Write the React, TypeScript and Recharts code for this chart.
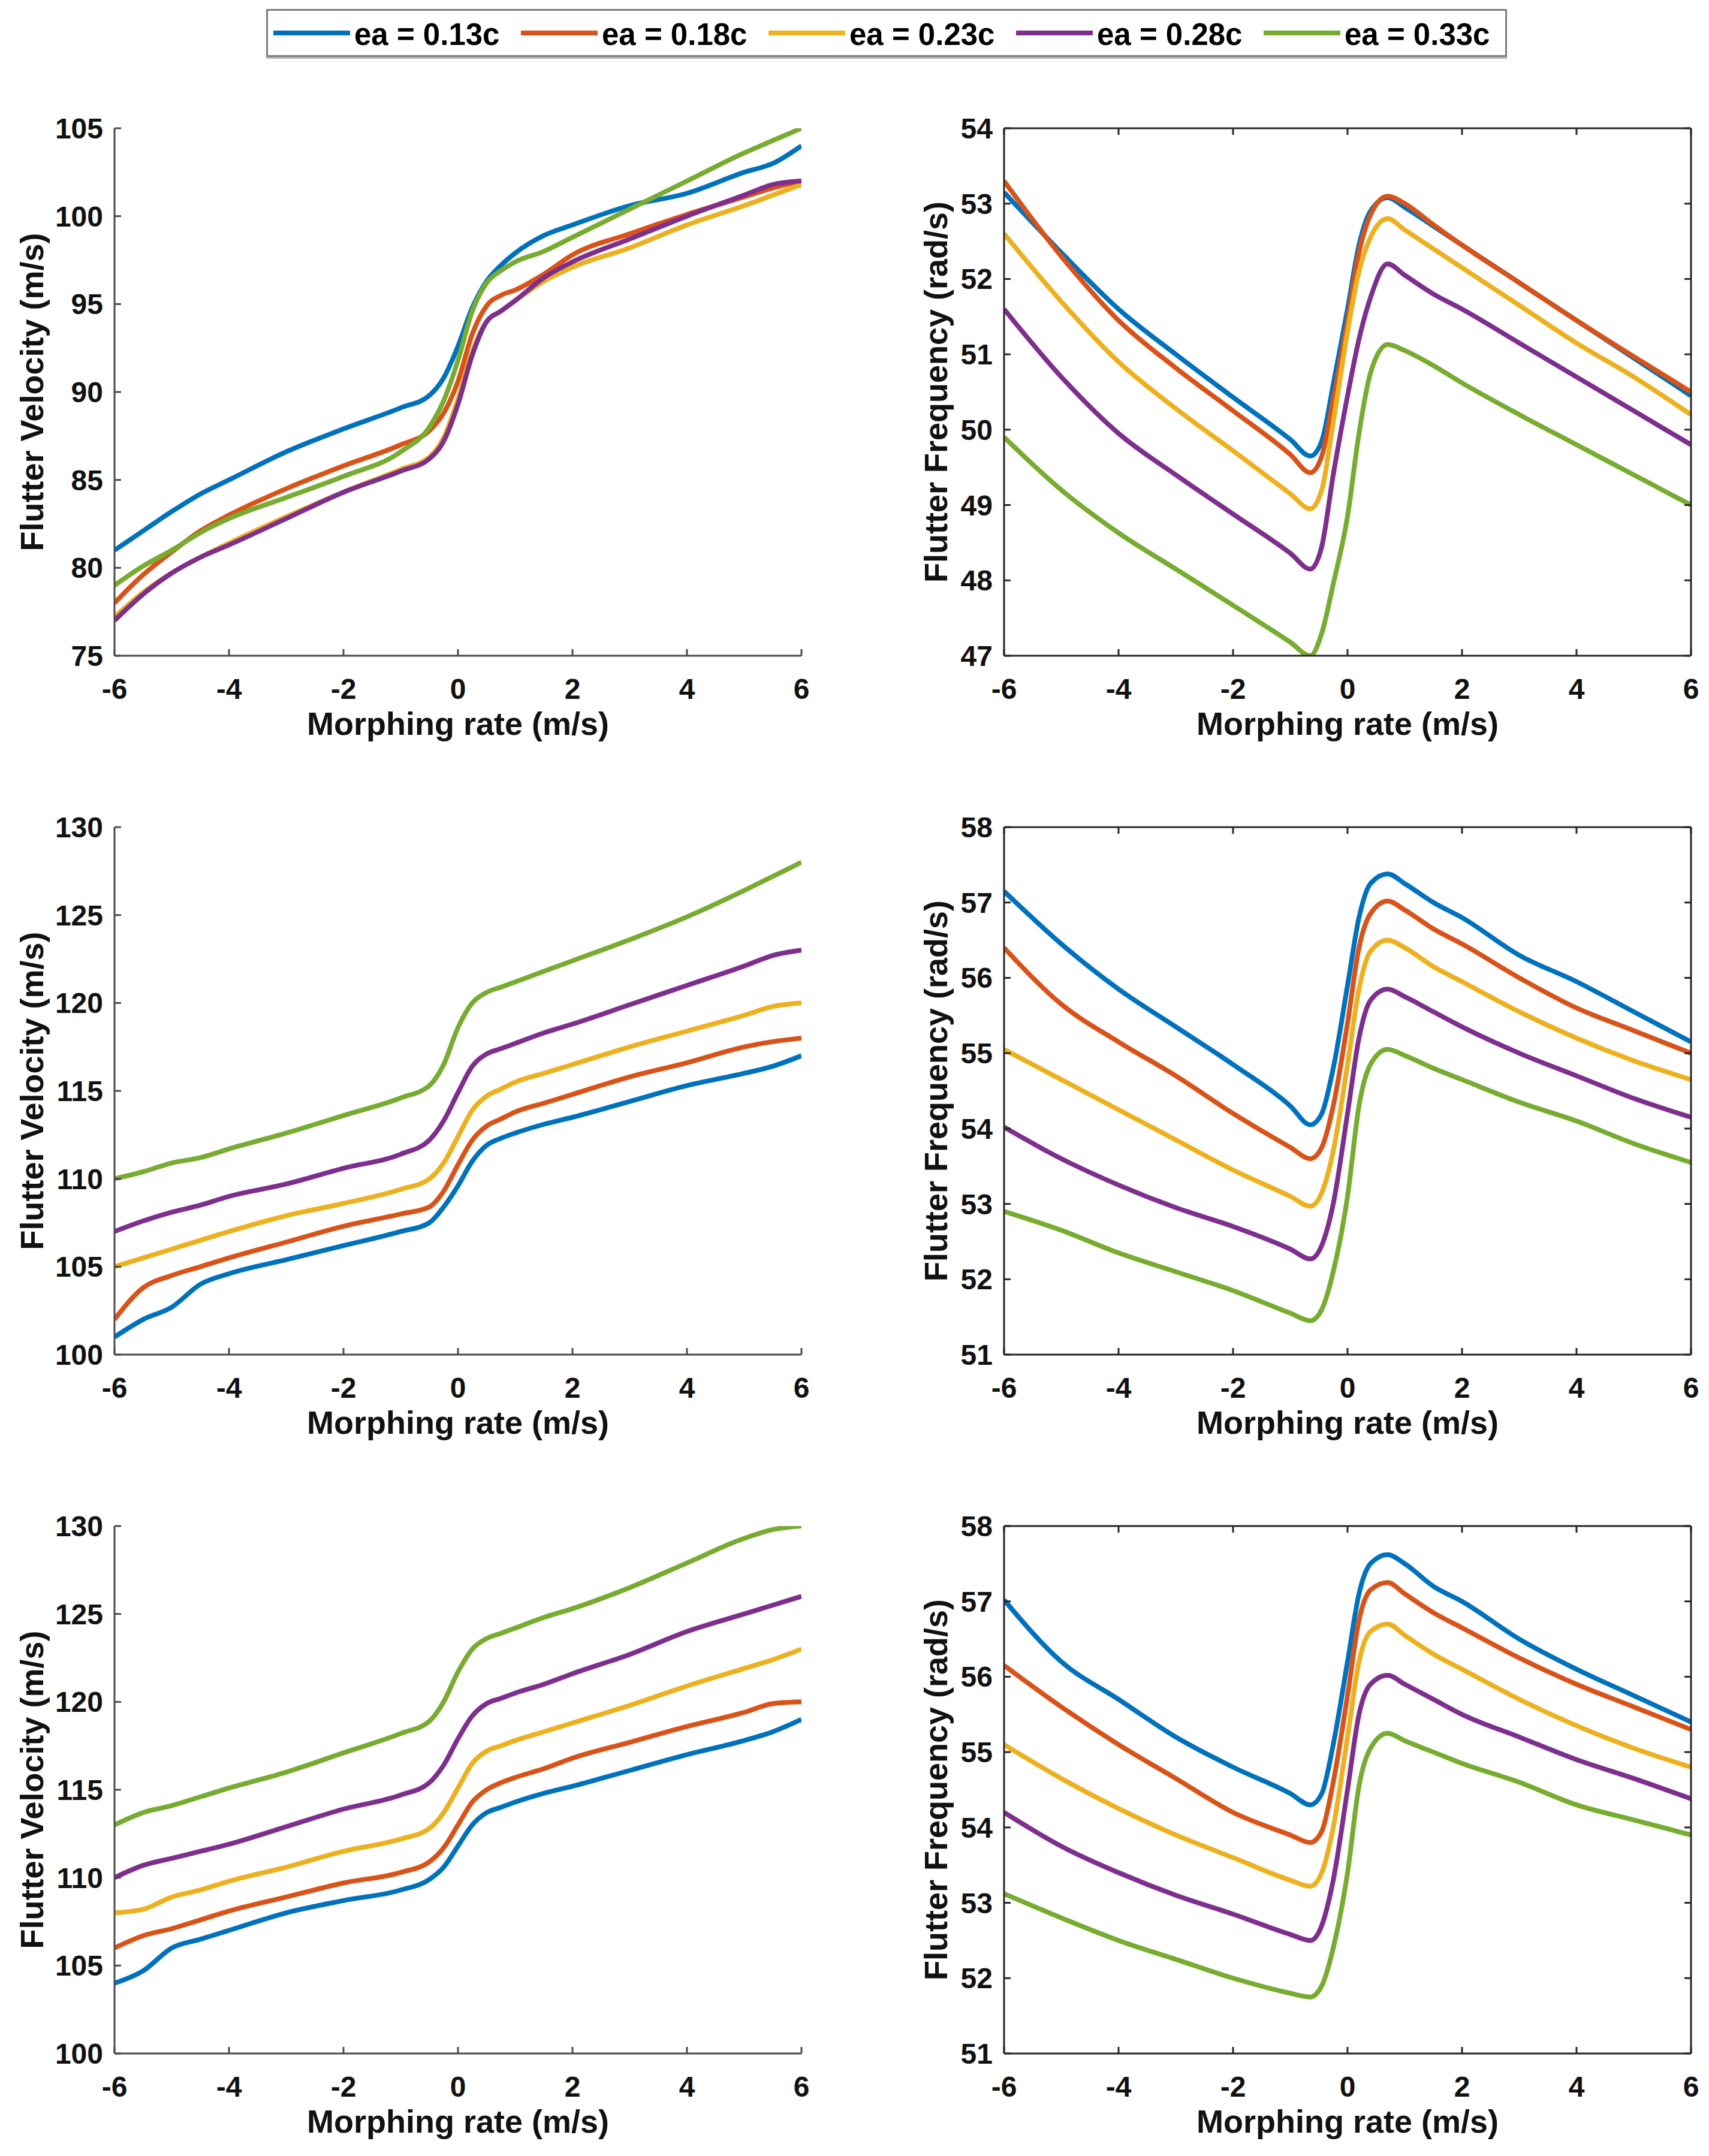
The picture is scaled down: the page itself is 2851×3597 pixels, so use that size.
import React from 'react';
import { LineChart, Line, XAxis, YAxis, Legend } from 'recharts';

// ---------- shared ----------
const SERIES_NAMES = ['ea = 0.13c', 'ea = 0.18c', 'ea = 0.23c', 'ea = 0.28c', 'ea = 0.33c'];
const COLORS = ['#0072BD', '#D95319', '#EDB120', '#7E2F8E', '#77AC30'];
const X_TICKS = [-6, -4, -2, 0, 2, 4, 6];
const X_LABEL = 'Morphing rate (m/s)';
const Y_LABEL_VEL = 'Flutter Velocity (m/s)';
const Y_LABEL_FREQ = 'Flutter Frequency (rad/s)';

// x grids
const velX = [-6, -5.5, -5, -4.5, -4, -3, -2, -1, -0.5, -0.25, 0, 0.25, 0.5, 0.75, 1, 1.5, 2, 3, 4, 5, 5.5, 6];
const freqX = [-6, -5, -4, -3, -2, -1, -0.65, -0.45, -0.25, 0, 0.2, 0.4, 0.7, 1, 1.5, 2, 3, 4, 5, 6];

// ---------- top-left: flutter velocity ----------
const velTopTicks = [75, 80, 85, 90, 95, 100, 105];
const velTop013 = [81.0, 82.1, 83.2, 84.2, 85.0, 86.6, 87.9, 89.1, 89.8, 90.8, 92.6, 94.8, 96.3, 97.2, 97.9, 98.9, 99.5, 100.6, 101.3, 102.5, 103.0, 104.0];
const velTop018 = [78.0, 79.6, 80.9, 82.1, 83.0, 84.5, 85.8, 87.0, 87.8, 88.8, 90.6, 93.3, 94.9, 95.5, 95.8, 96.7, 97.8, 99.0, 100.1, 101.1, 101.6, 102.0];
const velTop023 = [77.2, 78.6, 79.7, 80.6, 81.4, 82.9, 84.3, 85.6, 86.3, 87.4, 89.6, 92.3, 94.0, 94.6, 95.2, 96.3, 97.1, 98.2, 99.5, 100.6, 101.2, 101.8];
const velTop028 = [77.0, 78.5, 79.7, 80.6, 81.3, 82.8, 84.3, 85.5, 86.2, 87.2, 89.3, 92.1, 94.0, 94.6, 95.2, 96.5, 97.4, 98.7, 100.0, 101.2, 101.8, 102.0];
const velTop033 = [79.0, 80.1, 81.0, 82.0, 82.8, 84.0, 85.2, 86.6, 88.0, 89.5, 91.8, 94.6, 96.2, 96.9, 97.4, 98.0, 98.8, 100.4, 102.0, 103.6, 104.3, 105.0];

// ---------- top-right: flutter frequency ----------
const freqTopTicks = [47, 48, 49, 50, 51, 52, 53, 54];
const freqTop013 = [53.15, 52.35, 51.6, 51.0, 50.43, 49.87, 49.65, 49.85, 50.6, 51.6, 52.45, 52.9, 53.08, 52.95, 52.7, 52.45, 51.95, 51.45, 50.95, 50.45];
const freqTop018 = [53.3, 52.3, 51.45, 50.82, 50.25, 49.67, 49.43, 49.65, 50.4, 51.45, 52.35, 52.85, 53.1, 53.0, 52.72, 52.45, 51.95, 51.45, 50.97, 50.5];
const freqTop023 = [52.6, 51.7, 50.9, 50.28, 49.72, 49.15, 48.95, 49.2, 50.1, 51.3, 52.1, 52.55, 52.8, 52.65, 52.4, 52.15, 51.65, 51.15, 50.7, 50.2];
const freqTop028 = [51.6, 50.7, 49.95, 49.4, 48.88, 48.36, 48.15, 48.45, 49.4, 50.45, 51.2, 51.75, 52.2, 52.05, 51.8, 51.6, 51.15, 50.7, 50.25, 49.8];
const freqTop033 = [49.9, 49.2, 48.63, 48.15, 47.67, 47.18, 47.0, 47.3, 47.95, 48.85, 49.95, 50.75, 51.13, 51.05, 50.85, 50.62, 50.2, 49.8, 49.4, 49.0];

// ---------- middle-left: flutter velocity ----------
const velMidTicks = [100, 105, 110, 115, 120, 125, 130];
const velMid013 = [101.0, 102.0, 102.7, 104.0, 104.6, 105.4, 106.2, 107.0, 107.5, 108.4, 109.6, 111.0, 111.9, 112.3, 112.6, 113.1, 113.5, 114.4, 115.3, 116.0, 116.4, 117.0];
const velMid018 = [102.0, 103.8, 104.5, 105.0, 105.5, 106.4, 107.3, 108.0, 108.4, 109.3, 110.8, 112.2, 113.0, 113.4, 113.8, 114.3, 114.8, 115.8, 116.6, 117.5, 117.8, 118.0];
const velMid023 = [105.0, 105.5, 106.0, 106.5, 107.0, 107.9, 108.6, 109.4, 110.0, 110.9, 112.4, 113.9, 114.7, 115.1, 115.5, 116.0, 116.5, 117.5, 118.4, 119.3, 119.8, 120.0];
const velMid028 = [107.0, 107.6, 108.1, 108.5, 109.0, 109.7, 110.6, 111.4, 112.2, 113.3, 114.9, 116.4, 117.1, 117.4, 117.7, 118.3, 118.8, 119.9, 121.0, 122.1, 122.7, 123.0];
const velMid033 = [110.0, 110.4, 110.9, 111.2, 111.7, 112.6, 113.6, 114.6, 115.3, 116.5, 118.6, 120.0, 120.6, 120.9, 121.2, 121.8, 122.4, 123.6, 124.9, 126.4, 127.2, 128.0];

// ---------- middle-right: flutter frequency ----------
const freqMidTicks = [51, 52, 53, 54, 55, 56, 57, 58];
const freqMid013 = [57.15, 56.45, 55.85, 55.35, 54.85, 54.3, 54.05, 54.2, 54.8, 55.9, 56.8, 57.25, 57.38, 57.25, 57.0, 56.8, 56.3, 55.95, 55.55, 55.15];
const freqMid018 = [56.4, 55.65, 55.15, 54.7, 54.2, 53.75, 53.6, 53.75, 54.3, 55.4, 56.4, 56.85, 57.02, 56.9, 56.65, 56.45, 56.0, 55.6, 55.3, 55.0];
const freqMid023 = [55.05, 54.65, 54.25, 53.85, 53.45, 53.1, 52.97, 53.15, 53.7, 54.85, 55.85, 56.35, 56.5, 56.4, 56.15, 55.95, 55.55, 55.2, 54.9, 54.65];
const freqMid028 = [54.02, 53.6, 53.25, 52.95, 52.7, 52.4, 52.27, 52.45, 53.0, 54.2, 55.2, 55.7, 55.85, 55.75, 55.55, 55.35, 55.0, 54.7, 54.4, 54.15];
const freqMid033 = [52.9, 52.65, 52.35, 52.1, 51.85, 51.55, 51.45, 51.6, 52.1, 53.1, 54.3, 54.85, 55.05, 54.97, 54.8, 54.65, 54.35, 54.1, 53.8, 53.55];

// ---------- bottom-left: flutter velocity ----------
const velBotTicks = [100, 105, 110, 115, 120, 125, 130];
const velBot013 = [104.0, 104.7, 106.0, 106.5, 107.0, 108.0, 108.7, 109.3, 109.9, 110.6, 111.8, 113.0, 113.7, 114.0, 114.3, 114.8, 115.2, 116.1, 117.0, 117.8, 118.3, 119.0];
const velBot018 = [106.0, 106.7, 107.1, 107.6, 108.1, 108.9, 109.7, 110.3, 110.9, 111.7, 113.0, 114.3, 115.0, 115.4, 115.7, 116.2, 116.8, 117.7, 118.6, 119.4, 119.9, 120.0];
const velBot023 = [108.0, 108.2, 108.9, 109.3, 109.8, 110.6, 111.5, 112.2, 112.8, 113.7, 115.1, 116.5, 117.2, 117.5, 117.8, 118.3, 118.8, 119.8, 120.9, 121.9, 122.4, 123.0];
const velBot028 = [110.0, 110.7, 111.1, 111.5, 111.9, 112.9, 113.9, 114.7, 115.4, 116.4, 117.9, 119.2, 119.9, 120.2, 120.5, 121.0, 121.6, 122.7, 124.0, 125.0, 125.5, 126.0];
const velBot033 = [113.0, 113.7, 114.1, 114.6, 115.1, 116.0, 117.1, 118.2, 118.9, 120.0, 121.7, 123.0, 123.6, 123.9, 124.2, 124.8, 125.3, 126.5, 127.9, 129.3, 129.8, 130.0];

// ---------- bottom-right: flutter frequency ----------
const freqBotTicks = [51, 52, 53, 54, 55, 56, 57, 58];
const freqBot013 = [57.02, 56.2, 55.7, 55.2, 54.8, 54.45, 54.3, 54.45, 55.1, 56.2, 57.1, 57.5, 57.62, 57.5, 57.2, 57.0, 56.5, 56.1, 55.75, 55.4];
const freqBot018 = [56.15, 55.6, 55.1, 54.65, 54.2, 53.9, 53.8, 53.95, 54.6, 55.75, 56.75, 57.15, 57.25, 57.1, 56.85, 56.65, 56.25, 55.9, 55.6, 55.3];
const freqBot023 = [55.1, 54.65, 54.25, 53.9, 53.6, 53.3, 53.22, 53.4, 54.0, 55.2, 56.2, 56.6, 56.7, 56.55, 56.3, 56.1, 55.7, 55.35, 55.05, 54.8];
const freqBot028 = [54.2, 53.75, 53.4, 53.1, 52.85, 52.58, 52.5, 52.7, 53.3, 54.5, 55.5, 55.9, 56.02, 55.9, 55.7, 55.5, 55.2, 54.9, 54.65, 54.38];
const freqBot033 = [53.12, 52.8, 52.5, 52.25, 52.0, 51.8, 51.75, 51.9, 52.4, 53.4, 54.55, 55.05, 55.25, 55.15, 55.0, 54.85, 54.6, 54.3, 54.1, 53.9];

const buildRows = (xs: number[], series: number[][]) =>
  xs.map((x, i) => {
    const row: Record<string, number> = { x };
    series.forEach((s, k) => {
      row['s' + k] = s[i];
    });
    return row;
  });

const FONT = '"Liberation Sans", Arial, Helvetica, sans-serif';
const TEXT_COLOR = '#111';

const PLOT_W = 1146;
const PLOT_H = 880;
const Y_AXIS_W = 191;
const X_AXIS_H = 170;

const EmptyTick = () => <g />;

const YLabel = (props: any) => {
  const vb = props.viewBox || { x: 0, y: 0, width: 0, height: 0 };
  const cx = vb.x + props.dx;
  const cy = vb.y + vb.height / 2;
  return (
    <text
      x={cx}
      y={cy}
      transform={`rotate(-90 ${cx} ${cy})`}
      textAnchor="middle"
      dominantBaseline="central"
      fontFamily={FONT}
      fontWeight={700}
      fontSize={54}
      fill={TEXT_COLOR}
    >
      {props.text}
    </text>
  );
};

const XLabel = (props: any) => {
  const vb = props.viewBox || { x: 0, y: 0, width: 0, height: 0 };
  return (
    <text
      x={vb.x + vb.width / 2}
      y={vb.y + 132}
      textAnchor="middle"
      fontFamily={FONT}
      fontWeight={700}
      fontSize={54}
      fill={TEXT_COLOR}
    >
      {props.text}
    </text>
  );
};

const LegendBox = (props: any) => {
  const payload = props.payload || [];
  return (
    <div
      style={{
        boxSizing: 'border-box',
        width: 2070,
        height: 80,
        border: '3px solid #7d7d7d',
        boxShadow: '0 3px 0 #b5b5b5',
        background: '#fff',
        display: 'flex',
        alignItems: 'center',
        paddingLeft: 9,
      }}
    >
      {payload.map((p: any, i: number) => (
        <div key={i} style={{ width: 413, display: 'flex', alignItems: 'center', flex: '0 0 auto' }}>
          <svg width={128} height={10} style={{ display: 'block' }}>
            <line x1={0} y1={5} x2={128} y2={5} stroke={p.color} strokeWidth={8} />
          </svg>
          <span
            style={{
              marginLeft: 7,
              fontFamily: FONT,
              fontWeight: 700,
              fontSize: 51,
              color: '#000',
              lineHeight: 1,
              whiteSpace: 'nowrap',
              position: 'relative',
              top: 2,
            }}
          >
            {p.value}
          </span>
        </div>
      ))}
    </div>
  );
};

type PanelProps = {
  rows: Record<string, number>[];
  yDomain: [number, number];
  yTicks: number[];
  yLabel: string;
  yLabelDx: number;
  boxed: boolean;
  left: number;
  top: number;
  legend?: boolean;
};

const tickStyle = { fill: TEXT_COLOR, fontSize: 48, fontWeight: 700, fontFamily: FONT };

const Panel = ({ rows, yDomain, yTicks, yLabel, yLabelDx, boxed, left, top, legend }: PanelProps) => {
  const axisStroke = boxed ? '#262626' : '#4a4a4a';
  const rightMargin = boxed ? 20 : 40;
  const width = Y_AXIS_W + PLOT_W + (boxed ? 1 : 0) + rightMargin;
  const height = 40 + PLOT_H + X_AXIS_H;
  return (
    <div style={{ position: 'absolute', left, top, width, height }}>
      <LineChart
        width={width}
        height={height}
        data={rows}
        margin={{ top: boxed ? 39 : 40, right: rightMargin, left: 0, bottom: 0 }}
      >
        <XAxis
          xAxisId="b"
          dataKey="x"
          type="number"
          domain={[-6, 6]}
          ticks={X_TICKS}
          allowDataOverflow
          height={X_AXIS_H}
          tickSize={-11}
          tickMargin={49}
          tick={tickStyle}
          axisLine={{ stroke: axisStroke, strokeWidth: 3 }}
          tickLine={{ stroke: axisStroke, strokeWidth: 3 }}
          interval={0}
          label={<XLabel text={X_LABEL} />}
        />
        <YAxis
          yAxisId="l"
          type="number"
          domain={yDomain}
          ticks={yTicks}
          allowDataOverflow
          width={Y_AXIS_W}
          tickSize={-11}
          tickMargin={30}
          tick={tickStyle}
          axisLine={{ stroke: axisStroke, strokeWidth: 3 }}
          tickLine={{ stroke: axisStroke, strokeWidth: 3 }}
          interval={0}
          label={<YLabel text={yLabel} dx={yLabelDx} />}
        />
        {boxed && (
          <XAxis
            xAxisId="t"
            orientation="top"
            type="number"
            dataKey="x"
            domain={[-6, 6]}
            ticks={X_TICKS}
            allowDataOverflow
            height={1}
            tickSize={-11}
            tick={EmptyTick}
            axisLine={{ stroke: axisStroke, strokeWidth: 3 }}
            tickLine={{ stroke: axisStroke, strokeWidth: 3 }}
            interval={0}
          />
        )}
        {boxed && (
          <YAxis
            yAxisId="r"
            orientation="right"
            type="number"
            domain={yDomain}
            ticks={yTicks}
            allowDataOverflow
            width={1}
            tickSize={-11}
            tick={EmptyTick}
            axisLine={{ stroke: axisStroke, strokeWidth: 3 }}
            tickLine={{ stroke: axisStroke, strokeWidth: 3 }}
            interval={0}
          />
        )}
        {legend && (
          <Legend
            layout="horizontal"
            verticalAlign="middle"
            align="center"
            content={<LegendBox />}
            wrapperStyle={{ position: 'absolute', left: 444, top: 15 - top, width: 2070, height: 80, margin: 0 }}
          />
        )}
        {SERIES_NAMES.map((name, k) => (
          <Line
            key={name}
            xAxisId="b"
            yAxisId="l"
            dataKey={'s' + k}
            name={name}
            type="monotone"
            stroke={COLORS[k]}
            strokeWidth={8}
            dot={false}
            activeDot={false}
            isAnimationActive={false}
          />
        ))}
      </LineChart>
    </div>
  );
};

const ROW_TOPS = [214, 1380, 2546];
const LEFT_X = 0;
const RIGHT_X = 1484;

export default function App() {
  const velTopRows = buildRows(velX, [velTop013, velTop018, velTop023, velTop028, velTop033]);
  const freqTopRows = buildRows(freqX, [freqTop013, freqTop018, freqTop023, freqTop028, freqTop033]);
  const velMidRows = buildRows(velX, [velMid013, velMid018, velMid023, velMid028, velMid033]);
  const freqMidRows = buildRows(freqX, [freqMid013, freqMid018, freqMid023, freqMid028, freqMid033]);
  const velBotRows = buildRows(velX, [velBot013, velBot018, velBot023, velBot028, velBot033]);
  const freqBotRows = buildRows(freqX, [freqBot013, freqBot018, freqBot023, freqBot028, freqBot033]);

  return (
    <div style={{ position: 'absolute', left: 0, top: 0, width: 2851, height: 3597, background: '#fff', overflow: 'hidden' }}>
      <Panel rows={velTopRows} yDomain={[75, 105]} yTicks={velTopTicks} yLabel={Y_LABEL_VEL} yLabelDx={53} boxed={false} left={LEFT_X} top={ROW_TOPS[0] - 40} legend />
      <Panel rows={freqTopRows} yDomain={[47, 54]} yTicks={freqTopTicks} yLabel={Y_LABEL_FREQ} yLabelDx={77} boxed left={RIGHT_X} top={ROW_TOPS[0] - 40} />
      <Panel rows={velMidRows} yDomain={[100, 130]} yTicks={velMidTicks} yLabel={Y_LABEL_VEL} yLabelDx={53} boxed={false} left={LEFT_X} top={ROW_TOPS[1] - 40} />
      <Panel rows={freqMidRows} yDomain={[51, 58]} yTicks={freqMidTicks} yLabel={Y_LABEL_FREQ} yLabelDx={77} boxed left={RIGHT_X} top={ROW_TOPS[1] - 40} />
      <Panel rows={velBotRows} yDomain={[100, 130]} yTicks={velBotTicks} yLabel={Y_LABEL_VEL} yLabelDx={53} boxed={false} left={LEFT_X} top={ROW_TOPS[2] - 40} />
      <Panel rows={freqBotRows} yDomain={[51, 58]} yTicks={freqBotTicks} yLabel={Y_LABEL_FREQ} yLabelDx={77} boxed left={RIGHT_X} top={ROW_TOPS[2] - 40} />
    </div>
  );
}
